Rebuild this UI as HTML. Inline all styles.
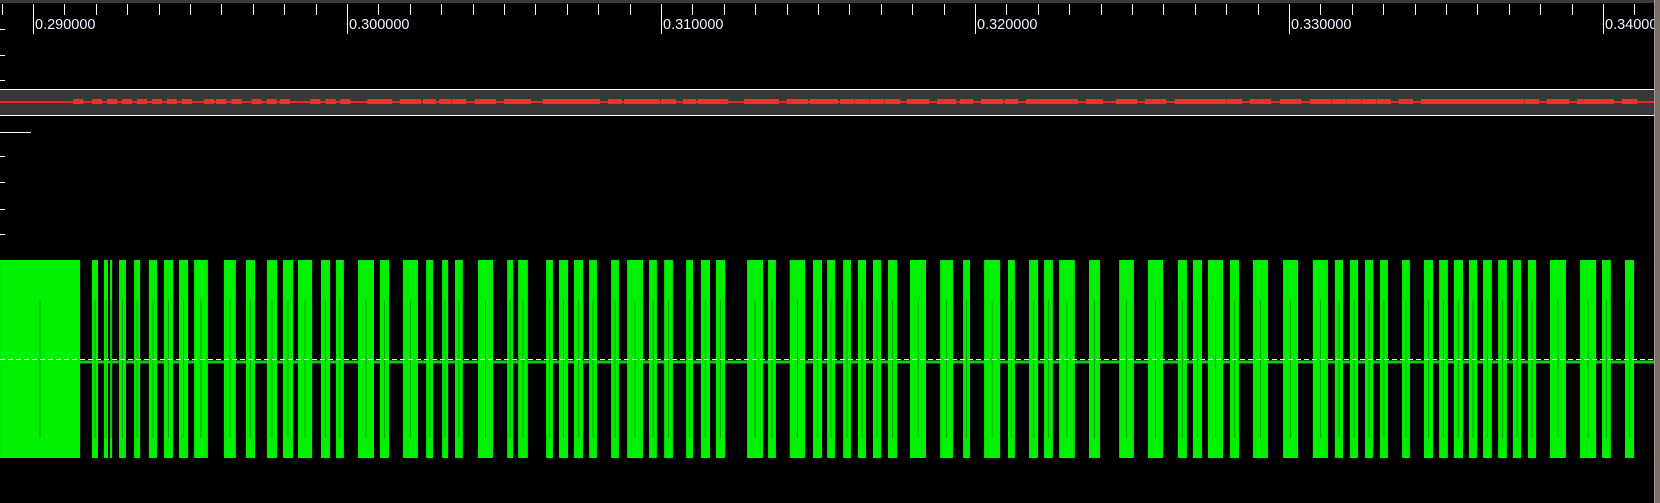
<!DOCTYPE html>
<html><head><meta charset="utf-8"><style>
html,body{margin:0;padding:0;background:#000;width:1660px;height:503px;overflow:hidden}
svg{display:block}
text{font-family:"Liberation Sans","DejaVu Sans",sans-serif}
</style></head><body>
<svg id="chart" width="1660" height="503" viewBox="0 0 1660 503">
<rect x="0" y="0" width="1660" height="503" fill="#000"/>
<rect x="0" y="0" width="1655" height="3" fill="#3a3a3a"/>
<g id="ruler"></g>
<g id="leftTicks"></g>
<line x1="0" y1="132.5" x2="31" y2="132.5" stroke="#fff" stroke-width="1"/>
<g id="decoder">
  <rect x="0" y="89" width="1655" height="26" fill="#383838"/>
  <line x1="0" y1="89.5" x2="1655" y2="89.5" stroke="#fff"/>
  <line x1="0" y1="115.5" x2="1655" y2="115.5" stroke="#fff"/>
  <line x1="0" y1="102" x2="1655" y2="102" stroke="#ff2020" stroke-width="2"/>
</g>
<g id="analog"></g>
<rect x="1654" y="0" width="1" height="503" fill="#999"/>
<rect x="1655" y="0" width="5" height="503" fill="#7d7064"/>
</svg>
<script>
// data (time in ms)
const majorTicks = [290, 300, 310, 320, 330, 340];
const tickLabels = ["0.290000","0.300000","0.310000","0.320000","0.330000","0.340000"];
const pulseStart = [288.95,291.88,292.26,292.45,292.74,293.22,293.69,294.17,294.65,295.13,296.08,296.78,297.45,297.96,298.44,299.17,299.65,300.35,301.05,301.78,302.52,303.03,303.44,304.17,305.10,305.45,306.34,306.75,307.23,307.71,308.41,308.92,309.62,310.10,310.80,311.27,311.75,312.74,313.41,314.10,314.84,315.29,315.80,316.27,316.75,317.23,317.93,318.89,319.62,320.29,321.05,321.72,322.20,322.68,323.63,324.59,325.51,326.46,326.94,327.42,328.12,328.85,329.81,330.76,331.46,331.94,332.42,332.90,333.60,334.30,334.78,335.25,335.73,336.18,336.66,337.13,337.61,338.31,339.27,339.97,340.70];
const pulseEnd   = [291.50,292.07,292.39,292.52,292.96,293.41,293.95,294.46,294.94,295.57,296.46,297.07,297.77,298.28,298.89,299.46,299.90,300.86,301.34,302.26,302.74,303.22,303.69,304.65,305.29,305.76,306.56,307.04,307.52,307.96,308.66,309.43,309.87,310.38,311.02,311.56,312.04,313.25,313.66,314.59,315.13,315.54,316.05,316.53,317.01,317.52,318.44,319.30,319.84,320.80,321.27,322.01,322.48,323.18,323.98,325.06,325.99,326.75,327.23,327.90,328.41,329.33,330.29,331.24,331.72,332.20,332.68,333.15,333.85,334.59,335.06,335.54,335.99,336.46,336.94,337.39,337.87,338.82,339.78,340.25,340.99];
const decodeStart = [291.28,291.88,292.36,292.83,293.31,293.79,294.26,294.74,295.45,295.83,296.32,296.96,297.44,297.86,298.83,299.32,299.79,300.65];

const NS='http://www.w3.org/2000/svg';
const X0=33, T0=290, PX_PER_MS=31.4;
const xs = t => X0 + (t - T0) * PX_PER_MS;
function mk(tag, parent, attrs){const e=document.createElementNS(NS,tag);for(const k in attrs)e.setAttribute(k,attrs[k]);parent.appendChild(e);return e;}

// ruler
const ruler=document.getElementById('ruler');
for(let t=289; t<=341; t++){
  const x=Math.round(xs(t))+0.5;
  if(x<0||x>1654) continue;
  const major = (t%10===0);
  const ln=mk('line',ruler,{x1:x,y1:4,x2:x,y2:major?34:15,stroke:'#fff','stroke-width':1});
  
  
}
majorTicks.forEach((t,i)=>{
  const tx=mk('text',ruler,{x:xs(t)+2,y:29,fill:'#eef4ff','font-size':14.5});
  tx.textContent=tickLabels[i];
  
  
});

// left ticks
const lt=document.getElementById('leftTicks');
[29,55,80,106,156,182,209,234,261].forEach(y=>{
  const l=mk('line',lt,{x1:0,y1:y+0.5,x2:5,y2:y+0.5,stroke:'#fff'});
  
  
});

// decoder annotations
const dec=document.getElementById('decoder');
function seg(a,b){
  const x1=Math.max(xs(a),73), x2=Math.min(xs(b),1654);
  if(x2<=x1) return;
  const r=mk('rect',dec,{x:x1,y:99,width:x2-x1,height:5,fill:'#ff2a2a'});
  
  
}
decodeStart.forEach(t=>seg(t, t+0.32));
pulseStart.forEach((t,i)=>{ if(t>300.9) seg(t-0.1, pulseEnd[i]+0.1); });

// analog channel
const an=document.getElementById('analog');
const YTOP=260, YBOT=458, YMID=362;
const base=mk('rect',an,{x:0,y:YMID-1.5,width:1654,height:3,fill:'#12c812'});


pulseStart.forEach((t,i)=>{
  const x1=Math.max(xs(t),0), x2=Math.min(xs(pulseEnd[i]),1654);
  const r=mk('rect',an,{x:x1,y:YTOP,width:x2-x1,height:YBOT-YTOP,fill:'#00f000'});
  
  
  const mid=(x1+x2)/2;
  const d=mk('line',an,{x1:mid,y1:YTOP+40,x2:mid,y2:YBOT-20,stroke:'#0aa80a','stroke-width':1});
  
  
});
const th=mk('line',an,{x1:0,y1:359.5,x2:1654,y2:359.5,stroke:'#fff','stroke-width':1,'stroke-dasharray':'5,3'});


</script>
</body></html>
